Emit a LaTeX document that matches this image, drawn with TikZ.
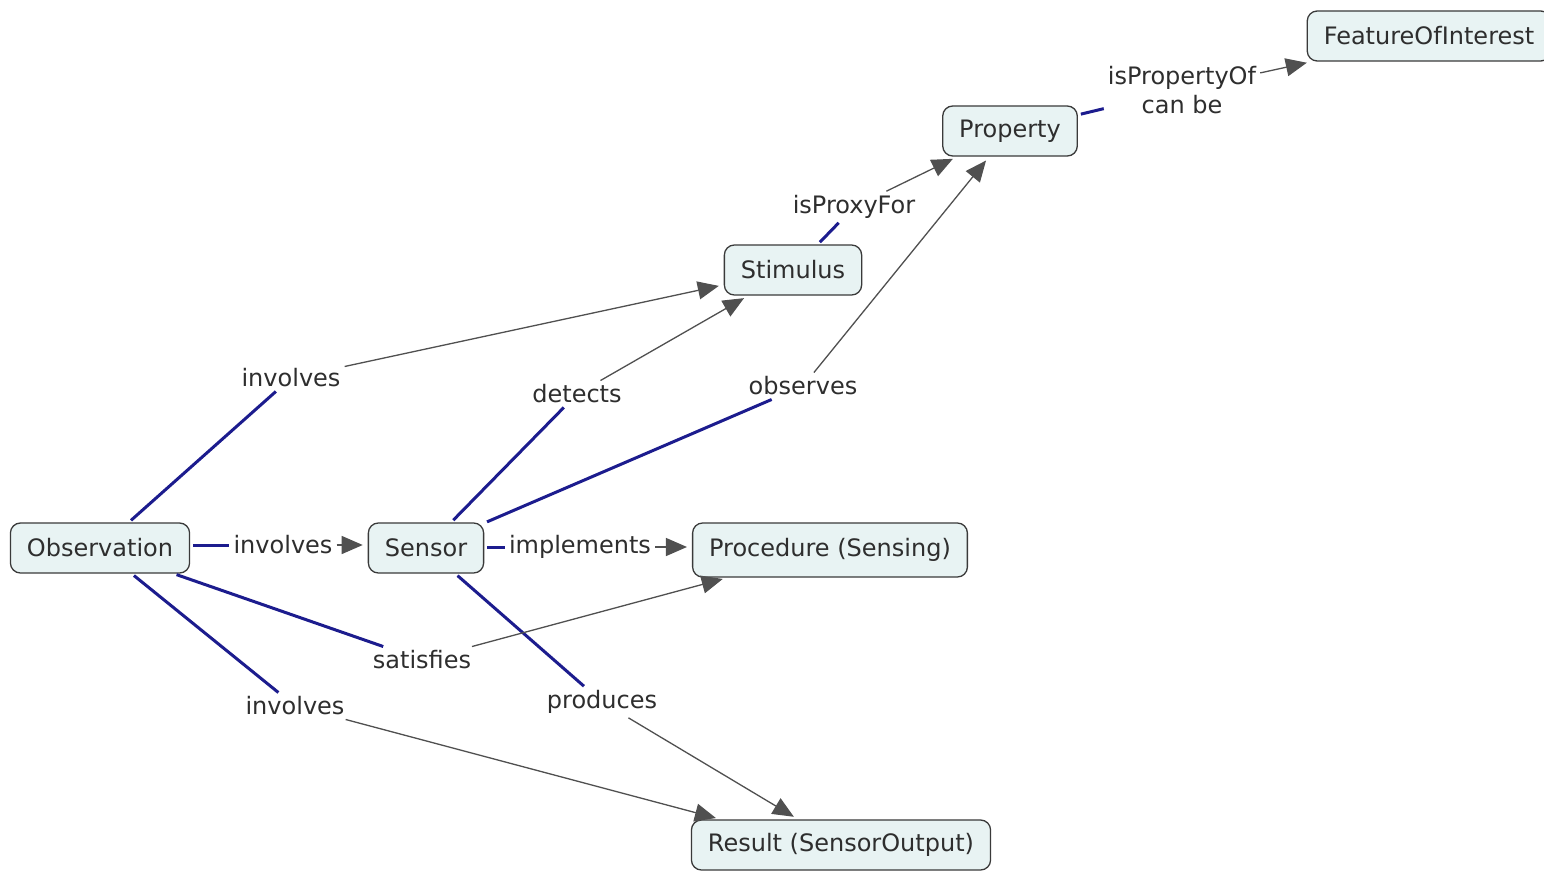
\documentclass[tikz,border=0pt]{standalone}
\usepackage{fontspec}
\setmainfont{DejaVu Sans}
\usetikzlibrary{arrows.meta}
\definecolor{boxfill}{HTML}{E8F3F3}
\definecolor{boxline}{HTML}{3A3A3A}
\definecolor{linkblue}{HTML}{1C1C8E}
\definecolor{arrowgray}{HTML}{505050}
\definecolor{txt}{HTML}{2E2E2E}
\tikzset{
  concept/.style={draw=boxline, line width=1.3pt, fill=boxfill, rounded corners=10pt,
    inner xsep=16.5pt, inner ysep=4pt, minimum height=50pt, text=txt,
    font=\fontsize{24}{29}\selectfont},
  linklabel/.style={inner sep=4pt, text=txt, font=\fontsize{24}{29}\selectfont, align=center},
  bluelink/.style={draw=linkblue, line width=3pt, shorten <=3pt},
  grayarrow/.style={draw=arrowgray, line width=1.3pt, shorten >=5pt,
    -{Triangle[length=21pt,width=18pt]}, color=arrowgray}
}
\begin{document}
\begin{tikzpicture}[x=1pt,y=-1pt]
\useasboundingbox (0,0) rectangle (1544,872);
\fill[white] (0,0) rectangle (1544,872);
% concepts
\node[concept] (foi) at (1429,36) {FeatureOfInterest};
\node[concept] (prop) at (1010,131) {Property};
\node[concept] (stim) at (793,270) {Stimulus};
\node[concept] (obs) at (100,548) {Observation};
\node[concept] (sens) at (426,548) {Sensor};
\node[concept, minimum height=54pt] (proc) at (830,550) {Procedure (Sensing)};
\node[concept] (res) at (841,845) {Result (SensorOutput)};
% linking phrases
\node[linklabel] (ipo) at (1182,90) {isPropertyOf\\can be};
\node[linklabel] (ipf) at (854,207) {isProxyFor};
\node[linklabel] (inv1) at (291,378) {involves};
\node[linklabel] (det) at (577,394) {detects};
\node[linklabel] (obsv) at (803,386) {observes};
\node[linklabel] (inv2) at (283,545) {involves};
\node[linklabel] (impl) at (580,547) {implements};
\node[linklabel] (sat) at (422,660) {satisfies};
\node[linklabel] (inv3) at (295,706) {involves};
\node[linklabel] (prod) at (602,702) {produces};
% blue lines (concept -> linking phrase)
\draw[bluelink] (obs) -- (inv1);
\draw[bluelink] (obs.east |- inv2) -- (inv2);
\draw[bluelink] (obs) -- (sat);
\draw[bluelink] (obs) -- (inv3);
\draw[bluelink] (sens) -- (det);
\draw[bluelink] (sens) -- (obsv);
\draw[bluelink] (sens.east |- impl) -- (impl);
\draw[bluelink] (sens) -- (prod);
\draw[bluelink] (stim) -- (ipf);
\draw[bluelink] (prop) -- (ipo);
% gray arrows (linking phrase -> concept)
\draw[grayarrow] (inv1) -- (stim);
\draw[grayarrow] (inv2) -- (sens.west |- inv2);
\draw[grayarrow] (sat) -- (proc);
\draw[grayarrow] (inv3) -- ([xshift=30pt]res.north west);
\draw[grayarrow] (det) -- (stim);
\draw[grayarrow] (obsv) -- (prop);
\draw[grayarrow] (impl) -- (proc.west |- impl);
\draw[grayarrow] (prod) -- (res);
\draw[grayarrow] (ipf) -- (prop);
\draw[grayarrow] (ipo) -- (foi);
\end{tikzpicture}
\end{document}
